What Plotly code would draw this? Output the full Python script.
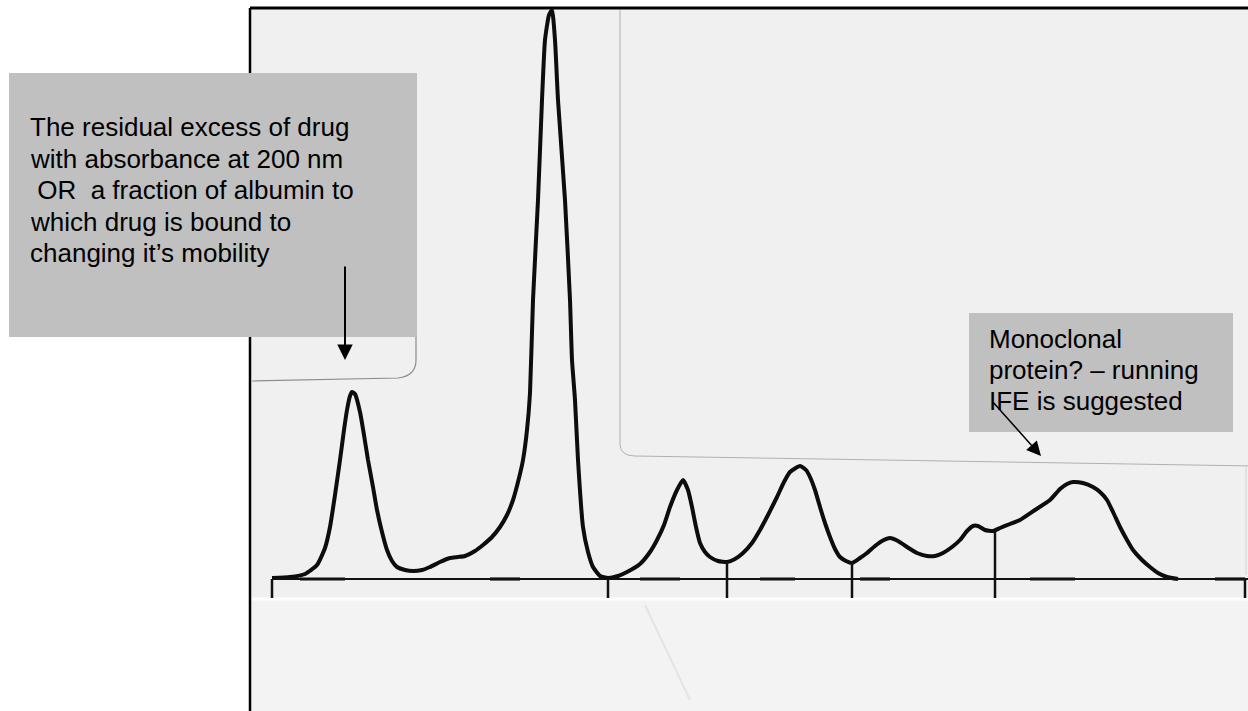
import numpy as np
import plotly.graph_objects as go

# Densitometer scan of a serum protein electrophoresis strip
# position along the strip (scan units) and detector signal above baseline
position = [272, 290, 305, 317, 325, 330, 335, 340, 344, 347, 350, 352, 355, 360, 364, 368,
            373, 377, 382, 387, 392, 397, 405, 413, 422, 430, 440, 450, 458, 465, 475, 483,
            492, 500, 507, 513, 518, 523, 527, 530, 533, 538, 542, 545, 549, 552, 555, 558,
            565, 570, 572, 575, 578, 583, 588, 593, 600, 608, 618, 627, 640, 650, 657, 664,
            670, 677, 683, 688, 692, 696, 700, 705, 710, 718, 727, 735, 743, 752, 760, 768,
            777, 784, 790, 800, 806, 810, 815, 820, 825, 830, 835, 840, 846, 852, 860, 867,
            875, 882, 890, 898, 907, 917, 927, 935, 943, 952, 960, 967, 973, 978, 985, 993,
            1000, 1010, 1020, 1035, 1050, 1060, 1067, 1073, 1083, 1093, 1100, 1107, 1113, 1120,
            1127, 1133, 1142, 1150, 1158, 1167, 1178]
signal = [1, 2, 5, 14, 31, 52, 84, 119, 149, 169, 183, 187, 185, 167, 144, 119,
          92, 69, 47, 29, 18, 12, 9, 8, 9, 12, 17, 21, 22, 23, 28, 34,
          42, 52, 64, 79, 97, 119, 149, 186, 279, 379, 479, 539, 564, 569, 539, 479,
          379, 279, 219, 179, 119, 52, 27, 12, 3, 1, 3, 7, 15, 27, 39, 54,
          72, 89, 99, 89, 72, 52, 36, 27, 22, 18, 17, 20, 26, 36, 49, 64,
          82, 97, 107, 113, 109, 102, 89, 72, 56, 42, 30, 22, 18, 16, 21, 26,
          33, 38, 41, 38, 32, 26, 23, 23, 26, 32, 39, 48, 53, 53, 49, 48,
          51, 55, 59, 69, 79, 90, 95, 97, 96, 92, 87, 79, 67, 52,
          39, 29, 19, 12, 6, 2, 0]

# fraction boundaries marked on the scan, and end ticks of the baseline
boundaries = [727, 852, 995]
end_ticks = [272, 608, 1245]
baseline_span = [272, 1248]
# heavier ink stretches along the printed baseline
baseline_ink = [(300, 345), (490, 520), (640, 680), (760, 795), (860, 890), (1030, 1075), (1215, 1245)]

left_note = ["The residual excess of drug",
             "with absorbance at 200 nm",
             "\u00a0OR\u00a0\u00a0a fraction of albumin to",
             "which drug is bound to",
             "changing it\u2019s mobility"]
right_note = ["Monoclonal",
              "protein? \u2013 running",
              "IFE is suggested"]

W, H = 1248, 711
Y0 = 579  # baseline row of the scan
X_RANGE = [0, W]
Y_RANGE = [Y0 - H, Y0]


def row(py):
    """Convert a row on the sheet to the vertical data coordinate."""
    return Y0 - py


fig = go.Figure()

# sheet background pieces
shapes = [
    dict(type="rect", x0=250, x1=W + 5, y0=row(H + 5), y1=row(8),
         fillcolor="#f0f0f0", line=dict(width=0), layer="below"),
    dict(type="rect", x0=252, x1=W + 5, y0=row(H + 5), y1=row(600),
         fillcolor="#f3f3f3", line=dict(width=0), layer="below"),
    dict(type="line", x0=252, x1=W + 5, y0=row(599), y1=row(599),
         line=dict(color="#ffffff", width=3), layer="below"),
    # edge of the upper-left paper piece
    dict(type="path",
         path=f"M 252 {row(381)} L 398 {row(378)} Q 416 {row(376)} 416 {row(360)} L 416 {row(337)}",
         line=dict(color="#8c8c8c", width=1.2), layer="below"),
    # edge of the upper-right paper piece
    dict(type="path",
         path=f"M 620 {row(10)} L 620 {row(445)} Q 621 {row(456)} 635 {row(456)} L {W + 5} {row(466)}",
         line=dict(color="#b0b0b0", width=1), layer="below"),
    dict(type="line", x0=1246, x1=1246, y0=row(466), y1=row(575),
         line=dict(color="#d4d4d4", width=1), layer="below"),
    # faint crease on the lower strip
    dict(type="line", x0=645, x1=690, y0=row(605), y1=row(700),
         line=dict(color="#e4e4e4", width=2), layer="below"),
    # frame
    dict(type="line", x0=250, x1=W + 5, y0=row(8), y1=row(8),
         line=dict(color="#000000", width=3), layer="below"),
    dict(type="line", x0=250, x1=250, y0=row(8), y1=row(H + 5),
         line=dict(color="#000000", width=2.5), layer="below"),
]

# baseline
shapes.append(dict(type="line", x0=baseline_span[0], x1=baseline_span[1], y0=0, y1=0,
                   line=dict(color="#111111", width=2)))
for a, b in baseline_ink:
    shapes.append(dict(type="line", x0=a, x1=b, y0=0, y1=0,
                       line=dict(color="#111111", width=3.2)))

# ticks and fraction boundaries
for xt in end_ticks:
    shapes.append(dict(type="line", x0=xt, x1=xt, y0=row(598), y1=0,
                       line=dict(color="#111111", width=2.5)))
for xb in boundaries:
    top = float(np.interp(xb, position, signal))
    shapes.append(dict(type="line", x0=xb, x1=xb, y0=row(598), y1=top,
                       line=dict(color="#111111", width=2.5)))

# annotation boxes
shapes.append(dict(type="rect", x0=9, x1=417, y0=row(337), y1=row(73),
                   fillcolor="#c0c0c0", line=dict(width=0), layer="above"))
shapes.append(dict(type="rect", x0=969, x1=1233, y0=row(432), y1=row(313),
                   fillcolor="#c0c0c0", line=dict(width=0), layer="above"))

fig.add_trace(go.Scatter(
    x=position, y=signal, mode="lines",
    line=dict(color="#0d0d0d", width=4, shape="spline", smoothing=0.5),
    hoverinfo="skip", showlegend=False,
))

font = dict(family="Liberation Sans, Arial, sans-serif", size=26, color="#000000")
annotations = []

for i, line in enumerate(left_note):
    annotations.append(dict(
        x=28, y=row(110 + 31.5 * i), xref="x", yref="y", xanchor="left", yanchor="top",
        text=line, align="left", showarrow=False, font=font,
    ))
for i, line in enumerate(right_note):
    annotations.append(dict(
        x=987, y=row(322 + 31 * i), xref="x", yref="y", xanchor="left", yanchor="top",
        text=line, align="left", showarrow=False, font=font,
    ))

# arrows
annotations.append(dict(
    x=345, y=row(360), ax=345, ay=row(265), xref="x", yref="y", axref="x", ayref="y",
    text="", showarrow=True, arrowhead=2, arrowsize=1.55, arrowwidth=2,
    arrowcolor="#000000", standoff=0,
))
annotations.append(dict(
    x=1041, y=row(456), ax=992, ay=row(401), xref="x", yref="y", axref="x", ayref="y",
    text="", showarrow=True, arrowhead=2, arrowsize=1.9, arrowwidth=1.5,
    arrowcolor="#000000", standoff=0,
))

fig.update_layout(
    width=W, height=H,
    margin=dict(l=0, r=0, t=0, b=0),
    paper_bgcolor="#ffffff", plot_bgcolor="rgba(0,0,0,0)",
    xaxis=dict(range=X_RANGE, visible=False, fixedrange=True),
    yaxis=dict(range=Y_RANGE, visible=False, fixedrange=True),
    shapes=shapes, annotations=annotations,
    showlegend=False,
)

fig.write_html("out.html")
